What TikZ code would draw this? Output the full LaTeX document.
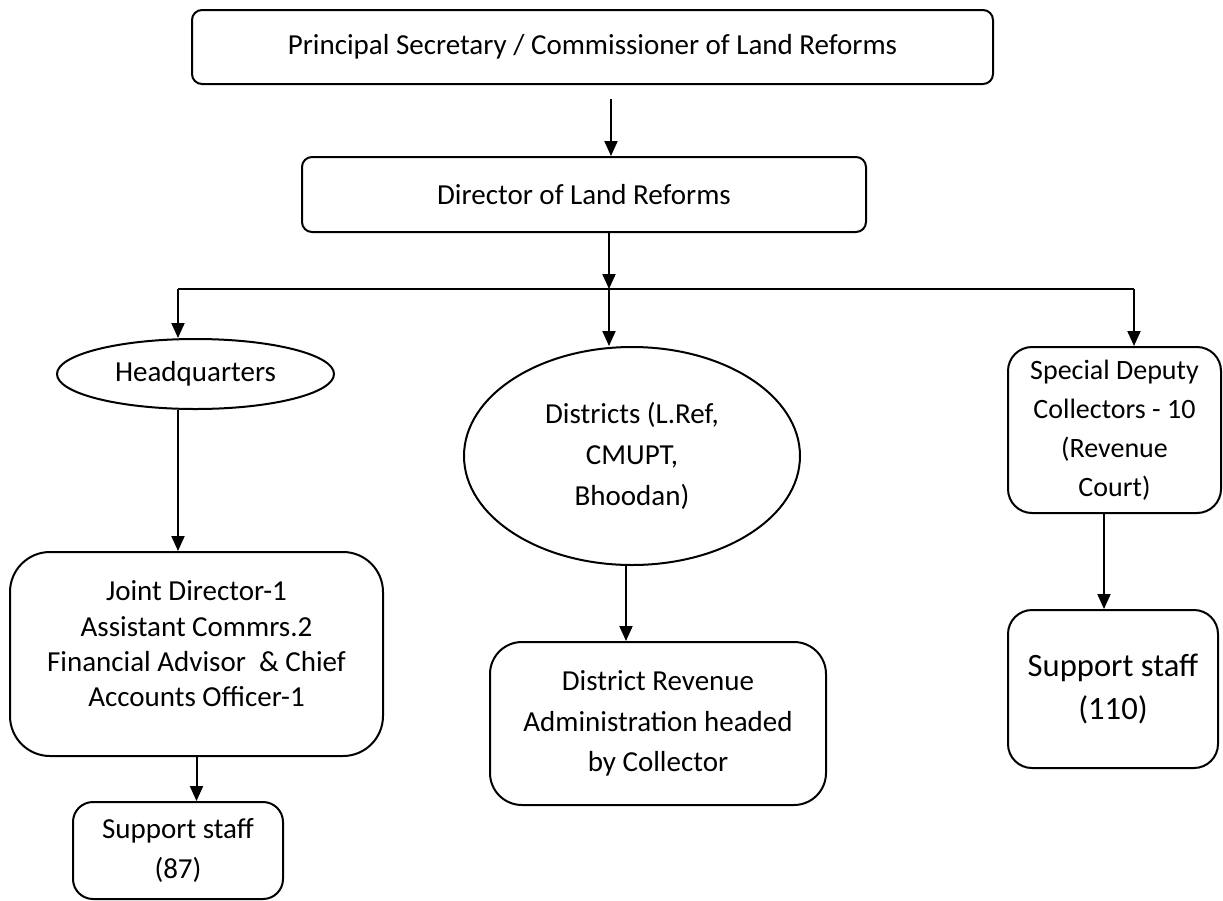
\documentclass[tikz,border=0pt]{standalone}
\usepackage{fontspec}
\setmainfont{Carlito}
\usetikzlibrary{arrows.meta,shapes.geometric}

\tikzset{
  box/.style={draw, line width=1pt, rounded corners=5pt, align=center, inner sep=0pt,
    font=\fontsize{14.5}{20.4}\selectfont},
  oval/.style={draw, ellipse, line width=1pt, align=center, inner sep=0pt,
    font=\fontsize{14.5}{20.4}\selectfont},
  link/.style={line width=1pt, -{Triangle[length=7.5pt,width=6.5pt]}},
}

\begin{document}
\begin{tikzpicture}[x=0.5pt,y=-0.5pt]
  \useasboundingbox (0,0) rectangle (1223,901);

  % top of the chart
  \node[box, minimum width=400.5pt, minimum height=37pt] (sec) at (592.5,47)
    {Principal Secretary / Commissioner of Land Reforms};
  \node[box, minimum width=282pt, minimum height=37.5pt] (dir) at (584,194.5)
    {Director of Land Reforms};

  % three branches
  \node[oval, minimum width=138.5pt, minimum height=35pt] (hq) at (195.5,374)
    {Headquarters};
  \node[oval, minimum width=168pt, minimum height=109pt] (dist) at (632,456)
    {Districts (L.Ref,\\ CMUPT,\\ Bhoodan)};
  \node[box, rounded corners=12pt, minimum width=106.5pt, minimum height=83pt,
    font=\fontsize{14}{19.5}\selectfont] (sdc) at (1114.5,430)
    {Special Deputy\\ Collectors - 10\\ (Revenue\\ Court)};

  % lower level
  \node[box, rounded corners=20pt, minimum width=186.5pt, minimum height=102pt]
    (joint) at (196.5,654) {};
  \node[align=center, font=\fontsize{14.5}{17.7}\selectfont] (jointtext)
    at ([yshift=5pt]joint.center)
    {Joint Director-1\\ Assistant Commrs.2\\ Financial Advisor~ \& Chief\\ Accounts Officer-1};
  \node[box, rounded corners=10pt, minimum width=105pt, minimum height=48.5pt]
    (sup87) at (178,850.5) {Support staff\\ (87)};
  \node[box, rounded corners=16pt, minimum width=168pt, minimum height=81.5pt]
    (dra) at (658,723.5) {District Revenue\\ Administration headed\\ by Collector};
  \node[box, rounded corners=12pt, minimum width=105pt, minimum height=79pt,
    font=\fontsize{16.3}{21.5}\selectfont] (sup110) at (1113,689) {Support staff\\ (110)};

  % connectors
  \coordinate (s1) at (611,99);
  \coordinate (bus) at (609,289);
  \coordinate (busL) at (178,289);
  \coordinate (busR) at (1134,289);
  \draw[link] (s1) -- (s1 |- dir.north);
  \draw[link] (bus |- dir.south) -- (bus);
  \draw[line width=1pt] (busL) -- (busR);
  \draw[link] (busL) -- (busL |- hq.north);
  \draw[link] (bus) -- (bus |- dist.north);
  \draw[link] (busR) -- (busR |- sdc.north);
  \draw[link] (hq.south -| busL) -- (joint.north -| busL);
  \draw[link] (joint.south) -- (joint.south |- sup87.north);
  \draw[link] ([xshift=-3pt]dist.south) -- ([xshift=-3pt]dist.south |- dra.north);
  \draw[link] ([xshift=-5.25pt]sdc.south) -- ([xshift=-5.25pt]sdc.south |- sup110.north);
\end{tikzpicture}
\end{document}
